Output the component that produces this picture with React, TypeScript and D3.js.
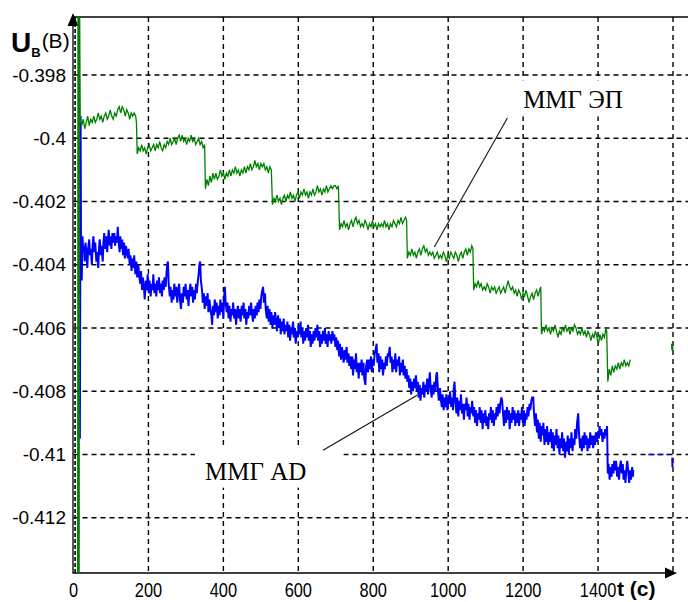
import React, { useEffect, useRef } from 'react';
import * as d3 from 'd3';

// time (s), voltage (V)
const greenEP: [number, number][] = [
  [11, -0.416], [12, -0.395], [13, -0.416], [14, -0.395], [15, -0.416], [16, -0.395], [18, -0.3994],
  [22, -0.3996], [26, -0.3994], [30, -0.3997], [34, -0.3995], [38, -0.3993], [42, -0.3996], [46, -0.3994], [50, -0.3995],
  [54, -0.3993], [58, -0.3995], [62, -0.3994], [66, -0.3992], [70, -0.3994], [74, -0.3993], [78, -0.3995], [82, -0.3993],
  [86, -0.3992], [90, -0.3994], [94, -0.3993], [98, -0.3991], [102, -0.3993], [106, -0.3994], [110, -0.3992], [114, -0.3993],
  [118, -0.3991], [122, -0.399], [126, -0.3992], [130, -0.399], [134, -0.3991], [138, -0.3993], [142, -0.3991], [146, -0.3992],
  [150, -0.3994], [154, -0.3992], [158, -0.3993], [162, -0.3992], [166, -0.3993], [168, -0.3995],
  [170, -0.4005], [174, -0.4003], [178, -0.4004], [182, -0.4002], [186, -0.4004], [190, -0.4003], [194, -0.4005], [198, -0.4003],
  [202, -0.4002], [206, -0.4004], [210, -0.4003], [214, -0.4002], [218, -0.4004], [222, -0.4002], [226, -0.4003], [230, -0.4001],
  [234, -0.4003], [238, -0.4004], [242, -0.4002], [246, -0.4003], [250, -0.4001], [254, -0.4002], [258, -0.4], [262, -0.4002],
  [266, -0.4001], [270, -0.4], [274, -0.4002], [278, -0.4], [282, -0.3999], [286, -0.4001], [290, -0.3999], [294, -0.4001],
  [298, -0.4], [302, -0.4002], [306, -0.4], [310, -0.4001], [314, -0.3999], [318, -0.4001], [322, -0.4], [326, -0.4002],
  [330, -0.4001], [334, -0.4], [338, -0.4002], [342, -0.4001], [346, -0.4003], [350, -0.4002],
  [352, -0.4016], [356, -0.4013], [360, -0.4015], [364, -0.4012], [368, -0.4014], [372, -0.4011], [376, -0.4013], [380, -0.4011],
  [384, -0.4013], [388, -0.4012], [392, -0.401], [396, -0.4012], [400, -0.4011], [404, -0.4013], [408, -0.4011], [412, -0.4012],
  [416, -0.401], [420, -0.4012], [424, -0.401], [428, -0.4011], [432, -0.4009], [436, -0.4011], [440, -0.401], [444, -0.4012],
  [448, -0.401], [452, -0.4011], [456, -0.4009], [460, -0.4011], [464, -0.4009], [468, -0.401], [472, -0.4008], [476, -0.401],
  [480, -0.4009], [484, -0.4007], [488, -0.4009], [492, -0.4008], [496, -0.401], [500, -0.4008], [504, -0.4009], [508, -0.4008],
  [512, -0.401], [516, -0.4009], [520, -0.4011], [524, -0.4009], [528, -0.401],
  [531, -0.4021], [535, -0.4019], [539, -0.402], [543, -0.4018], [547, -0.402], [551, -0.4019], [555, -0.4021], [559, -0.4019],
  [563, -0.4018], [567, -0.402], [571, -0.4018], [575, -0.4019], [579, -0.4017], [583, -0.4019], [587, -0.4018], [591, -0.402],
  [595, -0.4018], [599, -0.4017], [603, -0.4019], [607, -0.4017], [611, -0.4018], [615, -0.4016], [619, -0.4018], [623, -0.4017],
  [627, -0.4019], [631, -0.4017], [635, -0.4018], [639, -0.4016], [643, -0.4018], [647, -0.4017], [651, -0.4015], [655, -0.4017],
  [659, -0.4016], [663, -0.4018], [667, -0.4016], [671, -0.4017], [675, -0.4015], [679, -0.4017], [683, -0.4016], [687, -0.4015],
  [691, -0.4016], [695, -0.4015], [699, -0.4015], [703, -0.4016], [707, -0.4015],
  [710, -0.4029], [714, -0.4027], [718, -0.4028], [722, -0.4026], [726, -0.4028], [730, -0.4027], [734, -0.4029], [738, -0.4027],
  [742, -0.4026], [746, -0.4028], [750, -0.4026], [754, -0.4025], [758, -0.4027], [762, -0.4026], [766, -0.4028], [770, -0.4027],
  [774, -0.4028], [778, -0.4026], [782, -0.4027], [786, -0.4029], [790, -0.4027], [794, -0.4028], [798, -0.4026], [802, -0.4028],
  [806, -0.4027], [810, -0.4029], [814, -0.4027], [818, -0.4028], [822, -0.4027], [826, -0.4028], [830, -0.4026], [834, -0.4028],
  [838, -0.4027], [842, -0.4029], [846, -0.4027], [850, -0.4028], [854, -0.4026], [858, -0.4027], [862, -0.4028], [866, -0.4026],
  [870, -0.4027], [874, -0.4025], [878, -0.4027], [882, -0.4026], [886, -0.4025], [889, -0.4026],
  [891, -0.4038], [895, -0.4036], [899, -0.4037], [903, -0.4035], [907, -0.4037], [911, -0.4036], [915, -0.4038], [919, -0.4036],
  [923, -0.4035], [927, -0.4037], [931, -0.4035], [935, -0.4034], [939, -0.4036], [943, -0.4035], [947, -0.4037], [951, -0.4036],
  [955, -0.4037], [959, -0.4036], [963, -0.4038], [967, -0.4037], [971, -0.4036], [975, -0.4038], [979, -0.4037], [983, -0.4038],
  [987, -0.4036], [991, -0.4037], [995, -0.4039], [999, -0.4037], [1003, -0.4038], [1007, -0.4036], [1011, -0.4037], [1015, -0.4038],
  [1019, -0.4036], [1023, -0.4037], [1027, -0.4039], [1031, -0.4037], [1035, -0.4036], [1039, -0.4038], [1043, -0.4036], [1047, -0.4035],
  [1051, -0.4037], [1055, -0.4035], [1059, -0.4036], [1063, -0.4034], [1066, -0.4035],
  [1068, -0.4048], [1072, -0.4046], [1076, -0.4047], [1080, -0.4045], [1084, -0.4047], [1088, -0.4046], [1092, -0.4048], [1096, -0.4047],
  [1100, -0.4048], [1104, -0.4046], [1108, -0.4047], [1112, -0.4049], [1116, -0.4047], [1120, -0.4048], [1124, -0.4047], [1128, -0.4049],
  [1132, -0.4048], [1136, -0.4047], [1140, -0.4049], [1144, -0.4048], [1148, -0.4047], [1152, -0.4049], [1156, -0.4047], [1160, -0.4045],
  [1164, -0.4047], [1168, -0.4048], [1172, -0.4047], [1176, -0.4049], [1180, -0.4048], [1184, -0.405], [1188, -0.4048], [1192, -0.4049],
  [1196, -0.4051], [1200, -0.4049], [1204, -0.405], [1208, -0.4048], [1212, -0.405], [1216, -0.4052], [1220, -0.405], [1224, -0.4049],
  [1228, -0.4051], [1232, -0.4049], [1236, -0.4048], [1240, -0.405], [1244, -0.4048], [1247, -0.4047],
  [1249, -0.4062], [1253, -0.406], [1257, -0.4061], [1261, -0.4059], [1265, -0.4061], [1269, -0.406], [1273, -0.4062], [1277, -0.406],
  [1281, -0.4061], [1285, -0.4059], [1289, -0.4061], [1293, -0.4063], [1297, -0.4061], [1301, -0.4062], [1305, -0.406], [1309, -0.4061],
  [1313, -0.4059], [1317, -0.4061], [1321, -0.406], [1325, -0.4062], [1329, -0.406], [1333, -0.4061], [1337, -0.4059], [1341, -0.406],
  [1345, -0.4062], [1349, -0.4061], [1353, -0.4062], [1357, -0.406], [1361, -0.4062], [1365, -0.4061], [1369, -0.4063], [1373, -0.4061],
  [1377, -0.4062], [1381, -0.4064], [1385, -0.4062], [1389, -0.4063], [1393, -0.4061], [1397, -0.4063], [1401, -0.4065], [1405, -0.4062],
  [1409, -0.4064], [1413, -0.4062], [1417, -0.4063], [1421, -0.406], [1423, -0.4061],
  [1426, -0.4077], [1430, -0.4073], [1434, -0.4075], [1438, -0.4072], [1442, -0.4074], [1446, -0.4072], [1450, -0.4073], [1454, -0.4071],
  [1458, -0.4073], [1462, -0.4071], [1466, -0.4072], [1470, -0.407], [1474, -0.4072], [1478, -0.4071], [1482, -0.4072], [1486, -0.407],
];
const greenTail: [number, number][] = [[1597, -0.4065], [1598, -0.4067], [1599, -0.4066]];

const blueAD: [number, number][] = [
  [17, -0.4095], [19, -0.3993], [20, -0.4033], [22, -0.4045], [24, -0.4031], [26, -0.4036], [28, -0.4034], [30, -0.4039],
  [32, -0.4033], [35, -0.4037], [37, -0.4041], [39, -0.4035], [42, -0.4032], [44, -0.4037], [46, -0.4035], [49, -0.404],
  [51, -0.4034], [53, -0.4031], [56, -0.4036], [58, -0.4033], [61, -0.4039], [63, -0.4036], [66, -0.4041], [68, -0.4035],
  [70, -0.4032], [73, -0.4037], [75, -0.4034], [78, -0.4039],
  [80, -0.4033], [82, -0.403], [85, -0.4035], [87, -0.4031], [90, -0.4036], [92, -0.4032], [94, -0.4029], [97, -0.4034],
  [99, -0.4031], [101, -0.4035], [104, -0.403], [106, -0.4033], [109, -0.403], [111, -0.4034], [113, -0.4031], [116, -0.4033],
  [118, -0.4028], [120, -0.4032], [123, -0.4036], [125, -0.4031], [127, -0.4035], [130, -0.4032], [132, -0.4037], [135, -0.4033],
  [137, -0.4038], [140, -0.4034], [142, -0.4036],
  [145, -0.4038], [147, -0.4035], [150, -0.404], [152, -0.4037], [155, -0.4042], [157, -0.4038], [160, -0.4041], [162, -0.4037],
  [165, -0.4043], [168, -0.4039], [170, -0.4044], [173, -0.404], [175, -0.4043],
  [178, -0.4046], [180, -0.4042], [183, -0.4048], [185, -0.4044], [188, -0.4047], [190, -0.4051], [193, -0.4045],
  [196, -0.4048], [198, -0.4043], [201, -0.4049], [203, -0.4045], [206, -0.405], [208, -0.4046], [211, -0.4048], [213, -0.4043],
  [216, -0.4049], [218, -0.4046], [221, -0.405], [223, -0.4045], [226, -0.4048], [228, -0.4044], [231, -0.4049], [233, -0.4046],
  [236, -0.405], [238, -0.4045], [241, -0.4048], [243, -0.4044], [246, -0.4047], [248, -0.4043], [250, -0.404], [252, -0.4039],
  [254, -0.4046],
  [257, -0.405], [259, -0.4047], [262, -0.4052], [264, -0.4048], [267, -0.4051], [269, -0.4046], [272, -0.405], [274, -0.4047],
  [277, -0.4052], [279, -0.4048], [282, -0.4046], [284, -0.4051], [287, -0.4054], [289, -0.4049], [292, -0.4052], [294, -0.4047],
  [297, -0.405], [299, -0.4046], [302, -0.4051], [304, -0.4048], [307, -0.4053], [309, -0.4049], [312, -0.4046], [314, -0.405],
  [317, -0.4047], [319, -0.4052], [322, -0.4048], [324, -0.4051], [327, -0.4046], [329, -0.4049], [332, -0.4045], [334, -0.4043],
  [336, -0.404], [338, -0.4039], [340, -0.4045],
  [343, -0.4048], [345, -0.4052], [348, -0.4049], [350, -0.4054], [353, -0.405], [355, -0.4053], [358, -0.4049], [360, -0.4055],
  [363, -0.4051], [365, -0.4054], [368, -0.4056], [370, -0.4059], [372, -0.4053], [375, -0.4056], [377, -0.4051], [380, -0.4055],
  [382, -0.4052], [385, -0.4057], [387, -0.4053], [390, -0.4056], [392, -0.4051], [395, -0.4055], [397, -0.4052], [400, -0.4057],
  [402, -0.405], [404, -0.4047], [406, -0.4052],
  [409, -0.4055], [411, -0.4052], [414, -0.4057], [416, -0.4053], [419, -0.4058], [421, -0.4054], [424, -0.4056], [426, -0.4052],
  [429, -0.4057], [431, -0.4054], [434, -0.4059], [436, -0.4055], [439, -0.4053], [441, -0.4057], [444, -0.4054], [446, -0.4058],
  [449, -0.4053], [451, -0.4056], [454, -0.4052], [456, -0.4057], [459, -0.4054], [461, -0.4059], [464, -0.4055], [466, -0.4057],
  [469, -0.4053], [471, -0.4056], [474, -0.4052], [476, -0.4055], [479, -0.4058], [481, -0.4054], [484, -0.4057], [486, -0.4053],
  [489, -0.4056], [491, -0.4052], [494, -0.4055], [496, -0.4051], [499, -0.4054], [501, -0.405], [504, -0.4048], [506, -0.4047],
  [508, -0.4052], [511, -0.4049], [513, -0.4054],
  [516, -0.4057], [518, -0.4053], [521, -0.4058], [523, -0.4054], [526, -0.4059], [528, -0.4055], [531, -0.406], [533, -0.4056],
  [536, -0.4059], [538, -0.4055], [541, -0.4058], [543, -0.4061], [546, -0.4056], [548, -0.406], [551, -0.4057], [553, -0.4062],
  [556, -0.4058], [558, -0.4061], [561, -0.4057], [563, -0.4062], [566, -0.4059], [568, -0.4061],
  [571, -0.4058], [573, -0.4063], [576, -0.4059], [578, -0.4064], [581, -0.406], [583, -0.4062], [586, -0.4058], [588, -0.4063],
  [591, -0.406], [593, -0.4065], [596, -0.4061], [598, -0.4063], [601, -0.4059], [603, -0.4062], [606, -0.4058], [608, -0.4063],
  [611, -0.406], [613, -0.4065], [616, -0.4061], [618, -0.4064], [621, -0.406], [623, -0.4063], [626, -0.4059], [628, -0.4064],
  [631, -0.4061], [633, -0.4066], [636, -0.4062], [638, -0.4065], [641, -0.4061], [643, -0.4064], [646, -0.406], [648, -0.4063],
  [651, -0.4059], [653, -0.4064], [656, -0.4061], [658, -0.4066], [661, -0.4062], [663, -0.4065], [666, -0.4061], [668, -0.4064],
  [671, -0.406], [673, -0.4065], [676, -0.4062], [678, -0.4066], [681, -0.4061], [683, -0.4064], [686, -0.4062], [688, -0.4065],
  [691, -0.4061],
  [694, -0.4064], [696, -0.4062], [699, -0.4066], [701, -0.4063], [704, -0.4067], [706, -0.4064], [709, -0.4069], [711, -0.4065],
  [714, -0.407], [716, -0.4066], [719, -0.4068], [721, -0.4071], [724, -0.4067], [726, -0.407], [729, -0.4066], [731, -0.4071],
  [734, -0.4068], [736, -0.4072],
  [739, -0.4069], [741, -0.4073], [744, -0.4069], [746, -0.4075], [749, -0.407], [751, -0.4073], [754, -0.4068], [756, -0.4074],
  [759, -0.4071], [761, -0.4076], [764, -0.4071], [766, -0.4074], [769, -0.407], [771, -0.4075], [774, -0.4071], [776, -0.4076],
  [779, -0.4078], [781, -0.4072],
  [784, -0.407], [786, -0.4074], [789, -0.407], [791, -0.4073], [794, -0.4069], [796, -0.4074], [799, -0.407], [801, -0.4072],
  [804, -0.4068], [806, -0.4067], [809, -0.4065], [811, -0.4071], [814, -0.4068], [816, -0.4074], [819, -0.4069], [821, -0.4073],
  [824, -0.407], [826, -0.4075], [829, -0.4071], [831, -0.4073], [834, -0.4069], [836, -0.4072], [839, -0.4068], [841, -0.4069],
  [844, -0.4066], [846, -0.4071],
  [849, -0.4069], [851, -0.4074], [854, -0.407], [856, -0.4073], [859, -0.4068], [861, -0.4074], [864, -0.407], [866, -0.4072],
  [869, -0.4069], [871, -0.4075], [874, -0.4071], [876, -0.4074], [879, -0.407], [881, -0.4075], [884, -0.4072], [886, -0.4076],
  [889, -0.4073],
  [891, -0.4077], [894, -0.4075], [896, -0.4079], [899, -0.4076], [901, -0.4081], [904, -0.4077], [906, -0.408], [909, -0.4076],
  [911, -0.4079], [914, -0.4075], [916, -0.408],
  [919, -0.4077], [921, -0.4082], [924, -0.4078], [926, -0.4083], [929, -0.4079], [931, -0.4081], [934, -0.4077], [936, -0.4082],
  [939, -0.4078], [941, -0.408], [944, -0.4076], [946, -0.4081], [949, -0.4077], [951, -0.4074], [953, -0.4079], [956, -0.4082],
  [958, -0.4078], [961, -0.4081], [963, -0.4077], [966, -0.408], [968, -0.4075], [970, -0.4074], [973, -0.408], [975, -0.4083],
  [978, -0.4079],
  [980, -0.4082], [983, -0.4085], [985, -0.4081], [988, -0.4086], [990, -0.4082], [993, -0.4085], [995, -0.4081], [998, -0.4086],
  [1000, -0.4082], [1003, -0.4084], [1005, -0.408], [1008, -0.4085], [1010, -0.4082], [1013, -0.4086], [1015, -0.4079], [1017, -0.4077],
  [1019, -0.4083],
  [1022, -0.4087], [1024, -0.4082], [1027, -0.4088], [1029, -0.4083], [1032, -0.4086], [1034, -0.4081], [1037, -0.4087], [1039, -0.4084],
  [1042, -0.4089], [1044, -0.4084], [1047, -0.4086], [1049, -0.4082], [1052, -0.4088], [1054, -0.4084], [1057, -0.4089], [1059, -0.4085],
  [1062, -0.4087], [1064, -0.4083],
  [1067, -0.4088], [1069, -0.4085], [1072, -0.409], [1074, -0.4086], [1077, -0.4091], [1079, -0.4087], [1082, -0.4089], [1084, -0.4085],
  [1087, -0.409], [1089, -0.4086], [1092, -0.4092], [1094, -0.4087], [1097, -0.409], [1099, -0.4086], [1102, -0.4091], [1104, -0.4088],
  [1107, -0.4092], [1109, -0.4087], [1112, -0.4089], [1114, -0.4085], [1117, -0.409], [1119, -0.4086], [1122, -0.4091], [1124, -0.4087],
  [1127, -0.4089], [1129, -0.4085],
  [1132, -0.4088], [1134, -0.4084], [1137, -0.4087], [1139, -0.4084], [1142, -0.4082], [1144, -0.4083], [1147, -0.4088], [1149, -0.4091],
  [1152, -0.4086], [1154, -0.409], [1157, -0.4085], [1159, -0.4089], [1162, -0.4086], [1164, -0.4092], [1167, -0.4087], [1169, -0.409],
  [1172, -0.4085], [1174, -0.4089], [1177, -0.4086], [1179, -0.4091], [1182, -0.4087], [1184, -0.409], [1187, -0.4086], [1189, -0.4091],
  [1192, -0.4087], [1194, -0.4089], [1197, -0.4085], [1199, -0.409], [1202, -0.4086], [1204, -0.4091], [1207, -0.4087], [1209, -0.4089],
  [1212, -0.4085], [1214, -0.4088], [1217, -0.4084], [1219, -0.4086], [1222, -0.4083], [1224, -0.4082], [1227, -0.4082], [1229, -0.4087],
  [1232, -0.4091], [1234, -0.4087], [1237, -0.4093], [1239, -0.4089], [1242, -0.4095], [1244, -0.409], [1247, -0.4096], [1249, -0.4091],
  [1252, -0.4094], [1254, -0.409], [1257, -0.4097], [1259, -0.4092], [1262, -0.4096], [1264, -0.4091], [1267, -0.4097], [1269, -0.4093],
  [1272, -0.4096], [1274, -0.4092], [1277, -0.4098], [1279, -0.4093], [1282, -0.4099], [1284, -0.4094], [1287, -0.4097], [1289, -0.4092],
  [1292, -0.4098], [1294, -0.4094], [1297, -0.41], [1299, -0.4095], [1302, -0.4098], [1304, -0.4093], [1307, -0.4099], [1309, -0.4095],
  [1312, -0.4101], [1314, -0.4096], [1317, -0.4099], [1319, -0.4094], [1322, -0.41], [1324, -0.4095], [1327, -0.4098], [1329, -0.4093],
  [1332, -0.4099], [1334, -0.4095], [1337, -0.4097], [1339, -0.4092], [1342, -0.4095], [1344, -0.409], [1347, -0.4087], [1349, -0.4093],
  [1352, -0.4098],
  [1354, -0.4095], [1357, -0.4099], [1359, -0.4094], [1362, -0.4098], [1364, -0.4093], [1367, -0.4097], [1369, -0.4094], [1372, -0.4099],
  [1374, -0.4095], [1377, -0.4098], [1379, -0.4093], [1382, -0.4097], [1384, -0.4094], [1387, -0.4098], [1389, -0.4094], [1392, -0.4097],
  [1394, -0.4093], [1397, -0.4096], [1399, -0.4093], [1402, -0.4095], [1404, -0.4091], [1407, -0.4094], [1409, -0.4092], [1412, -0.4096],
  [1414, -0.4093], [1417, -0.4095], [1419, -0.4092], [1422, -0.4094], [1424, -0.4091],
  [1426, -0.4106], [1428, -0.4103], [1431, -0.4108], [1433, -0.4104], [1436, -0.4107], [1438, -0.4103], [1441, -0.4106], [1443, -0.4102],
  [1446, -0.4105], [1448, -0.4102], [1451, -0.4107], [1453, -0.4104], [1456, -0.4108], [1458, -0.4104], [1461, -0.4102], [1463, -0.4106],
  [1466, -0.4103], [1468, -0.4108], [1471, -0.4105], [1473, -0.4109], [1476, -0.4104], [1478, -0.4102], [1481, -0.4106], [1483, -0.4109],
  [1486, -0.4105], [1488, -0.4108], [1491, -0.4104], [1493, -0.4107], [1494, -0.4105],
];
const blueTail: [number, number][] = [[1598, -0.4101], [1598.6, -0.4104]];
const blueDash: [number, number][] = [[1534, -0.41], [1588, -0.41]];

const xTicks = [0, 200, 400, 600, 800, 1000, 1200, 1400];
const xGrid = [200, 400, 600, 800, 1000, 1200, 1400, 1600];
const yTicks = [-0.398, -0.4, -0.402, -0.404, -0.406, -0.408, -0.41, -0.412];
const yTickLabels = ['-0.398', '-0.4', '-0.402', '-0.404', '-0.406', '-0.408', '-0.41', '-0.412'];

// text labels with a white backing box and a leader line, in data units
const notes = [
  { text: 'ММГ ЭП', at: [1200, -0.39904], box: [1172, -0.39817, 1528, -0.39931], from: [1158, -0.39936], to: [963, -0.40344] },
  { text: 'ММГ AD', at: [351, -0.41082], box: [324, -0.40972, 720, -0.41105], from: [666, -0.40987], to: [917, -0.40813] },
];

const W = 688;
const H = 602;

const Chart = () => {
  const ref = useRef<SVGSVGElement>(null);

  useEffect(() => {
    const svg = d3.select(ref.current);
    svg.selectAll('*').remove();

    const top = 17;
    const bottom = 573;
    const left = 73.5;

    const x = d3.scaleLinear().domain([0, 1600]).range([left, 673]);
    const y = d3.scaleLinear().domain([-0.412, -0.398]).range([517.7, 75]);

    svg.append('rect').attr('width', W).attr('height', H).attr('fill', '#fff');

    svg.append('clipPath').attr('id', 'plot')
      .append('rect').attr('x', left).attr('y', top).attr('width', W - left).attr('height', bottom - top);

    const grid = svg.append('g').attr('stroke', '#000').attr('stroke-width', 1.4).attr('stroke-dasharray', '5,4');
    grid.selectAll('.hg').data(yTicks).enter().append('line')
      .attr('x1', left).attr('x2', W).attr('y1', d => y(d)).attr('y2', d => y(d));
    grid.selectAll('.vg').data(xGrid).enter().append('line')
      .attr('y1', top).attr('y2', bottom).attr('x1', d => x(d)).attr('x2', d => x(d));

    // axes frame
    svg.append('line').attr('x1', left).attr('x2', W).attr('y1', top).attr('y2', top)
      .attr('stroke', '#000').attr('stroke-width', 1.5);
    svg.append('line').attr('x1', left - 0.5).attr('x2', left - 0.5).attr('y1', 24).attr('y2', bottom)
      .attr('stroke', '#000').attr('stroke-width', 1.3);
    svg.append('line').attr('x1', left + 1.6).attr('x2', left + 1.6).attr('y1', top).attr('y2', bottom)
      .attr('stroke', '#000').attr('stroke-width', 1.6).attr('stroke-dasharray', '4,2');
    svg.append('line').attr('x1', left - 1).attr('x2', 668).attr('y1', bottom).attr('y2', bottom)
      .attr('stroke', '#000').attr('stroke-width', 1.6);
    svg.append('path').attr('d', `M677,${bottom} L665,${bottom - 5.5} L665,${bottom + 5.5} Z`).attr('fill', '#000');
    svg.append('path').attr('d', `M${left - 0.5},13 L${left - 6},26 L${left + 5},26 Z`).attr('fill', '#000');

    const line = d3.line<[number, number]>().x(d => x(d[0])).y(d => y(d[1]));
    const plot = svg.append('g').attr('clip-path', 'url(#plot)').attr('fill', 'none');
    plot.append('path').datum(blueAD).attr('d', line).attr('stroke', '#0000ff').attr('stroke-width', 2)
      .attr('stroke-linejoin', 'miter');
    plot.append('path').datum(blueTail).attr('d', line).attr('stroke', '#0000ff').attr('stroke-width', 2);
    plot.append('path').datum(blueDash).attr('d', line).attr('stroke', '#0000ff').attr('stroke-width', 1.4)
      .attr('stroke-dasharray', '5,4');
    plot.append('path').datum(greenEP).attr('d', line).attr('stroke', '#008000').attr('stroke-width', 1.3);
    plot.append('path').datum(greenTail).attr('d', line).attr('stroke', '#008000').attr('stroke-width', 2);

    // annotations
    notes.forEach(n => {
      svg.append('rect')
        .attr('x', x(n.box[0])).attr('y', y(n.box[1]))
        .attr('width', x(n.box[2]) - x(n.box[0])).attr('height', y(n.box[3]) - y(n.box[1]))
        .attr('fill', '#fff');
      svg.append('line')
        .attr('x1', x(n.from[0])).attr('y1', y(n.from[1])).attr('x2', x(n.to[0])).attr('y2', y(n.to[1]))
        .attr('stroke', '#111').attr('stroke-width', 1.1);
      svg.append('text').attr('x', x(n.at[0])).attr('y', y(n.at[1]))
        .attr('font-family', "'Liberation Serif', 'Times New Roman', serif").attr('font-size', 25)
        .attr('fill', '#000').text(n.text);
    });

    const tickFont = "'Liberation Sans', Arial, sans-serif";
    svg.append('g').selectAll('text').data(yTicks).enter().append('text')
      .attr('x', 66).attr('y', d => y(d)).attr('dy', '0.35em').attr('text-anchor', 'end')
      .attr('font-family', tickFont).attr('font-size', 19).attr('fill', '#000')
      .text((d, i) => yTickLabels[i]);
    // x tick labels are condensed in the original
    svg.append('g').selectAll('text').data(xTicks).enter().append('text')
      .attr('transform', d => `translate(${x(d)},597) scale(0.82,1)`).attr('text-anchor', 'middle')
      .attr('font-family', tickFont).attr('font-size', 20).attr('fill', '#000')
      .text(d => String(d));

    // axis titles
    svg.append('text').attr('x', 617).attr('y', 596)
      .attr('font-family', tickFont).attr('font-weight', 'bold').attr('font-size', 21).attr('fill', '#000')
      .text('t (с)');
    const yt = svg.append('text').attr('x', 11).attr('y', 52).attr('font-family', tickFont).attr('fill', '#000');
    yt.append('tspan').attr('font-size', 28).attr('font-weight', 'bold').text('U');
    yt.append('tspan').attr('font-size', 13).attr('font-weight', 'bold').attr('dy', 5).text('В');
    yt.append('tspan').attr('font-size', 21).attr('dy', -9).attr('dx', 1).text('(В)');
  }, []);

  return (
    <svg ref={ref} width={W} height={H}
      style={{ position: 'absolute', left: 0, top: 0, display: 'block' }} />
  );
};

export default function App() {
  return <Chart />;
}
